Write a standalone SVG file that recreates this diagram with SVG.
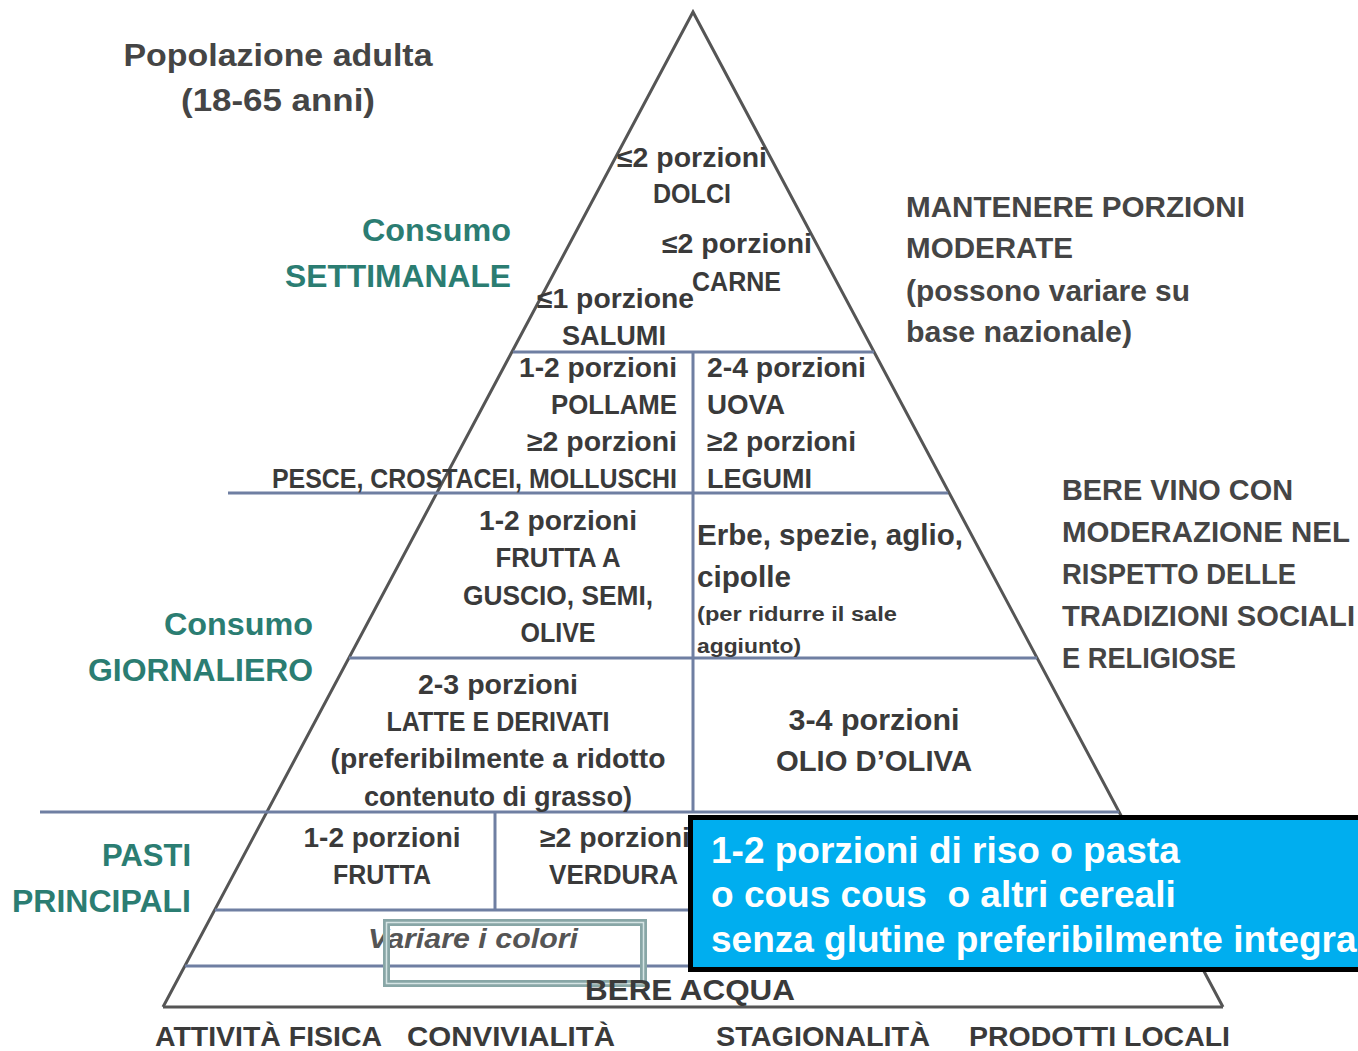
<svg xmlns="http://www.w3.org/2000/svg" width="1358" height="1051" viewBox="0 0 1358 1051">
<style>
text{font-family:"Liberation Sans",Arial,sans-serif;font-weight:bold;fill:#3a3a3a;font-size:27px}
.t{font-size:32px;fill:#454545}
.h{font-size:32px;fill:#2b7d72}
.r{font-size:29px;fill:#454545}
.l{font-size:30px}
.s{font-size:20px}
.m{text-anchor:middle}
.e{text-anchor:end}
.it{font-style:italic;fill:#555}
.w{fill:#ffffff;font-size:37px}
.hl{stroke:#6f7fa2;stroke-width:3;fill:none}
.tri{stroke:#555;stroke-width:3;fill:none}
</style>
<rect width="1358" height="1051" fill="#ffffff"/>
<g id="connectors">
<polyline class="tri" points="163,1007 693,12 1223,1007"/>
<line class="tri" x1="163" y1="1007" x2="1223" y2="1007"/>
<line class="hl" x1="513" y1="352" x2="874" y2="352"/>
<line class="hl" x1="228" y1="493" x2="948" y2="493"/>
<line class="hl" x1="349" y1="658" x2="1037" y2="658"/>
<line class="hl" x1="40" y1="812" x2="1119" y2="812"/>
<line class="hl" x1="215" y1="910" x2="700" y2="910"/>
<line class="hl" x1="185" y1="966" x2="700" y2="966"/>
<line class="hl" x1="693" y1="352" x2="693" y2="812"/>
<line class="hl" x1="495" y1="812" x2="495" y2="910"/>
</g>
<g id="title">
<text class="t m" x="278" y="66" textLength="309" lengthAdjust="spacingAndGlyphs">Popolazione adulta</text>
<text class="t m" x="278" y="111" textLength="194" lengthAdjust="spacingAndGlyphs">(18-65 anni)</text>
</g>
<g id="settimanale">
<text class="h e" x="511" y="241" textLength="149" lengthAdjust="spacingAndGlyphs">Consumo</text>
<text class="h e" x="511" y="287" textLength="226" lengthAdjust="spacingAndGlyphs">SETTIMANALE</text>
</g>
<g id="giornaliero">
<text class="h e" x="313" y="635" textLength="149" lengthAdjust="spacingAndGlyphs">Consumo</text>
<text class="h e" x="313" y="681" textLength="225" lengthAdjust="spacingAndGlyphs">GIORNALIERO</text>
</g>
<g id="pasti">
<text class="h e" x="191" y="866" textLength="89" lengthAdjust="spacingAndGlyphs">PASTI</text>
<text class="h e" x="191" y="912" textLength="179" lengthAdjust="spacingAndGlyphs">PRINCIPALI</text>
</g>
<g id="dolci">
<text x="617" y="167" textLength="150" lengthAdjust="spacingAndGlyphs">≤2 porzioni</text>
<text class="m" x="692" y="203" textLength="78" lengthAdjust="spacingAndGlyphs">DOLCI</text>
</g>
<g id="carne">
<text x="662" y="253" textLength="150" lengthAdjust="spacingAndGlyphs">≤2 porzioni</text>
<text x="692" y="291" textLength="89" lengthAdjust="spacingAndGlyphs">CARNE</text>
</g>
<g id="salumi">
<text x="537" y="308" textLength="157" lengthAdjust="spacingAndGlyphs">≤1 porzione</text>
<text x="562" y="345" textLength="104" lengthAdjust="spacingAndGlyphs">SALUMI</text>
</g>
<g id="pollame-pesce">
<text class="e" x="677" y="377" textLength="158" lengthAdjust="spacingAndGlyphs">1-2 porzioni</text>
<text class="e" x="677" y="414" textLength="126" lengthAdjust="spacingAndGlyphs">POLLAME</text>
<text class="e" x="677" y="451" textLength="150" lengthAdjust="spacingAndGlyphs">≥2 porzioni</text>
<text class="e" x="677" y="488" textLength="405" lengthAdjust="spacingAndGlyphs">PESCE, CROSTACEI, MOLLUSCHI</text>
</g>
<g id="uova-legumi">
<text x="707" y="377" textLength="159" lengthAdjust="spacingAndGlyphs">2-4 porzioni</text>
<text x="707" y="414" textLength="78" lengthAdjust="spacingAndGlyphs">UOVA</text>
<text x="707" y="451" textLength="149" lengthAdjust="spacingAndGlyphs">≥2 porzioni</text>
<text x="707" y="488" textLength="105" lengthAdjust="spacingAndGlyphs">LEGUMI</text>
</g>
<g id="frutta-guscio">
<text class="m" x="558" y="530" textLength="158" lengthAdjust="spacingAndGlyphs">1-2 porzioni</text>
<text class="m" x="558" y="567" textLength="125" lengthAdjust="spacingAndGlyphs">FRUTTA A</text>
<text class="m" x="558" y="605" textLength="190" lengthAdjust="spacingAndGlyphs">GUSCIO, SEMI,</text>
<text class="m" x="558" y="642" textLength="75" lengthAdjust="spacingAndGlyphs">OLIVE</text>
</g>
<g id="erbe">
<text class="l" x="697" y="545" textLength="266" lengthAdjust="spacingAndGlyphs">Erbe, spezie, aglio,</text>
<text class="l" x="697" y="587" textLength="94" lengthAdjust="spacingAndGlyphs">cipolle</text>
<text class="s" x="697" y="621" textLength="200" lengthAdjust="spacingAndGlyphs">(per ridurre il sale</text>
<text class="s" x="697" y="653" textLength="104" lengthAdjust="spacingAndGlyphs">aggiunto)</text>
</g>
<g id="latte">
<text class="m" x="498" y="694" textLength="160" lengthAdjust="spacingAndGlyphs">2-3 porzioni</text>
<text class="m" x="498" y="731" textLength="223" lengthAdjust="spacingAndGlyphs">LATTE E DERIVATI</text>
<text class="m" x="498" y="768" textLength="335" lengthAdjust="spacingAndGlyphs">(preferibilmente a ridotto</text>
<text class="m" x="498" y="806" textLength="268" lengthAdjust="spacingAndGlyphs">contenuto di grasso)</text>
</g>
<g id="olio">
<text class="l m" x="874" y="730" textLength="171" lengthAdjust="spacingAndGlyphs">3-4 porzioni</text>
<text class="l m" x="874" y="771" textLength="196" lengthAdjust="spacingAndGlyphs">OLIO D’OLIVA</text>
</g>
<g id="porzioni-moderate">
<text class="r" x="906" y="217" textLength="339" lengthAdjust="spacingAndGlyphs">MANTENERE PORZIONI</text>
<text class="r" x="906" y="258" textLength="167" lengthAdjust="spacingAndGlyphs">MODERATE</text>
<text class="r" x="906" y="301" textLength="284" lengthAdjust="spacingAndGlyphs">(possono variare su</text>
<text class="r" x="906" y="342" textLength="226" lengthAdjust="spacingAndGlyphs">base nazionale)</text>
</g>
<g id="vino">
<text class="r" x="1062" y="500" textLength="231" lengthAdjust="spacingAndGlyphs">BERE VINO CON</text>
<text class="r" x="1062" y="542" textLength="288" lengthAdjust="spacingAndGlyphs">MODERAZIONE NEL</text>
<text class="r" x="1062" y="584" textLength="234" lengthAdjust="spacingAndGlyphs">RISPETTO DELLE</text>
<text class="r" x="1062" y="626" textLength="293" lengthAdjust="spacingAndGlyphs">TRADIZIONI SOCIALI</text>
<text class="r" x="1062" y="668" textLength="174" lengthAdjust="spacingAndGlyphs">E RELIGIOSE</text>
</g>
<g id="frutta">
<text class="m" x="382" y="847" textLength="157" lengthAdjust="spacingAndGlyphs">1-2 porzioni</text>
<text class="m" x="382" y="884" textLength="98" lengthAdjust="spacingAndGlyphs">FRUTTA</text>
</g>
<g id="verdura">
<text x="540" y="847" textLength="150" lengthAdjust="spacingAndGlyphs">≥2 porzioni</text>
<text x="549" y="884" textLength="129" lengthAdjust="spacingAndGlyphs">VERDURA</text>
</g>
<g id="variare">
<text class="it" x="368" y="948" textLength="210" lengthAdjust="spacingAndGlyphs">Variare i colori</text>
<rect x="386.5" y="922.5" width="257" height="61" fill="none" stroke="#88a6a6" stroke-width="7"/>
<rect x="386.5" y="922.5" width="257" height="61" fill="none" stroke="#d5e4e4" stroke-width="1.5"/>
</g>
<g id="acqua">
<text class="l m" x="690" y="1000" textLength="210" lengthAdjust="spacingAndGlyphs">BERE ACQUA</text>
</g>
<g id="base-labels">
<text x="155" y="1046" textLength="227" lengthAdjust="spacingAndGlyphs">ATTIVITÀ FISICA</text>
<text x="407" y="1046" textLength="208" lengthAdjust="spacingAndGlyphs">CONVIVIALITÀ</text>
<text x="716" y="1046" textLength="214" lengthAdjust="spacingAndGlyphs">STAGIONALITÀ</text>
<text x="969" y="1046" textLength="261" lengthAdjust="spacingAndGlyphs">PRODOTTI LOCALI</text>
</g>
<g id="cereali">
<rect x="690.5" y="817.5" width="700" height="152" fill="#00aeef" stroke="#000" stroke-width="5"/>
<text class="w" x="711" y="863">1-2 porzioni di riso o pasta</text>
<text class="w" x="711" y="907" xml:space="preserve">o cous cous  o altri cereali</text>
<text class="w" x="711" y="952">senza glutine preferibilmente integra</text>
</g>
</svg>
